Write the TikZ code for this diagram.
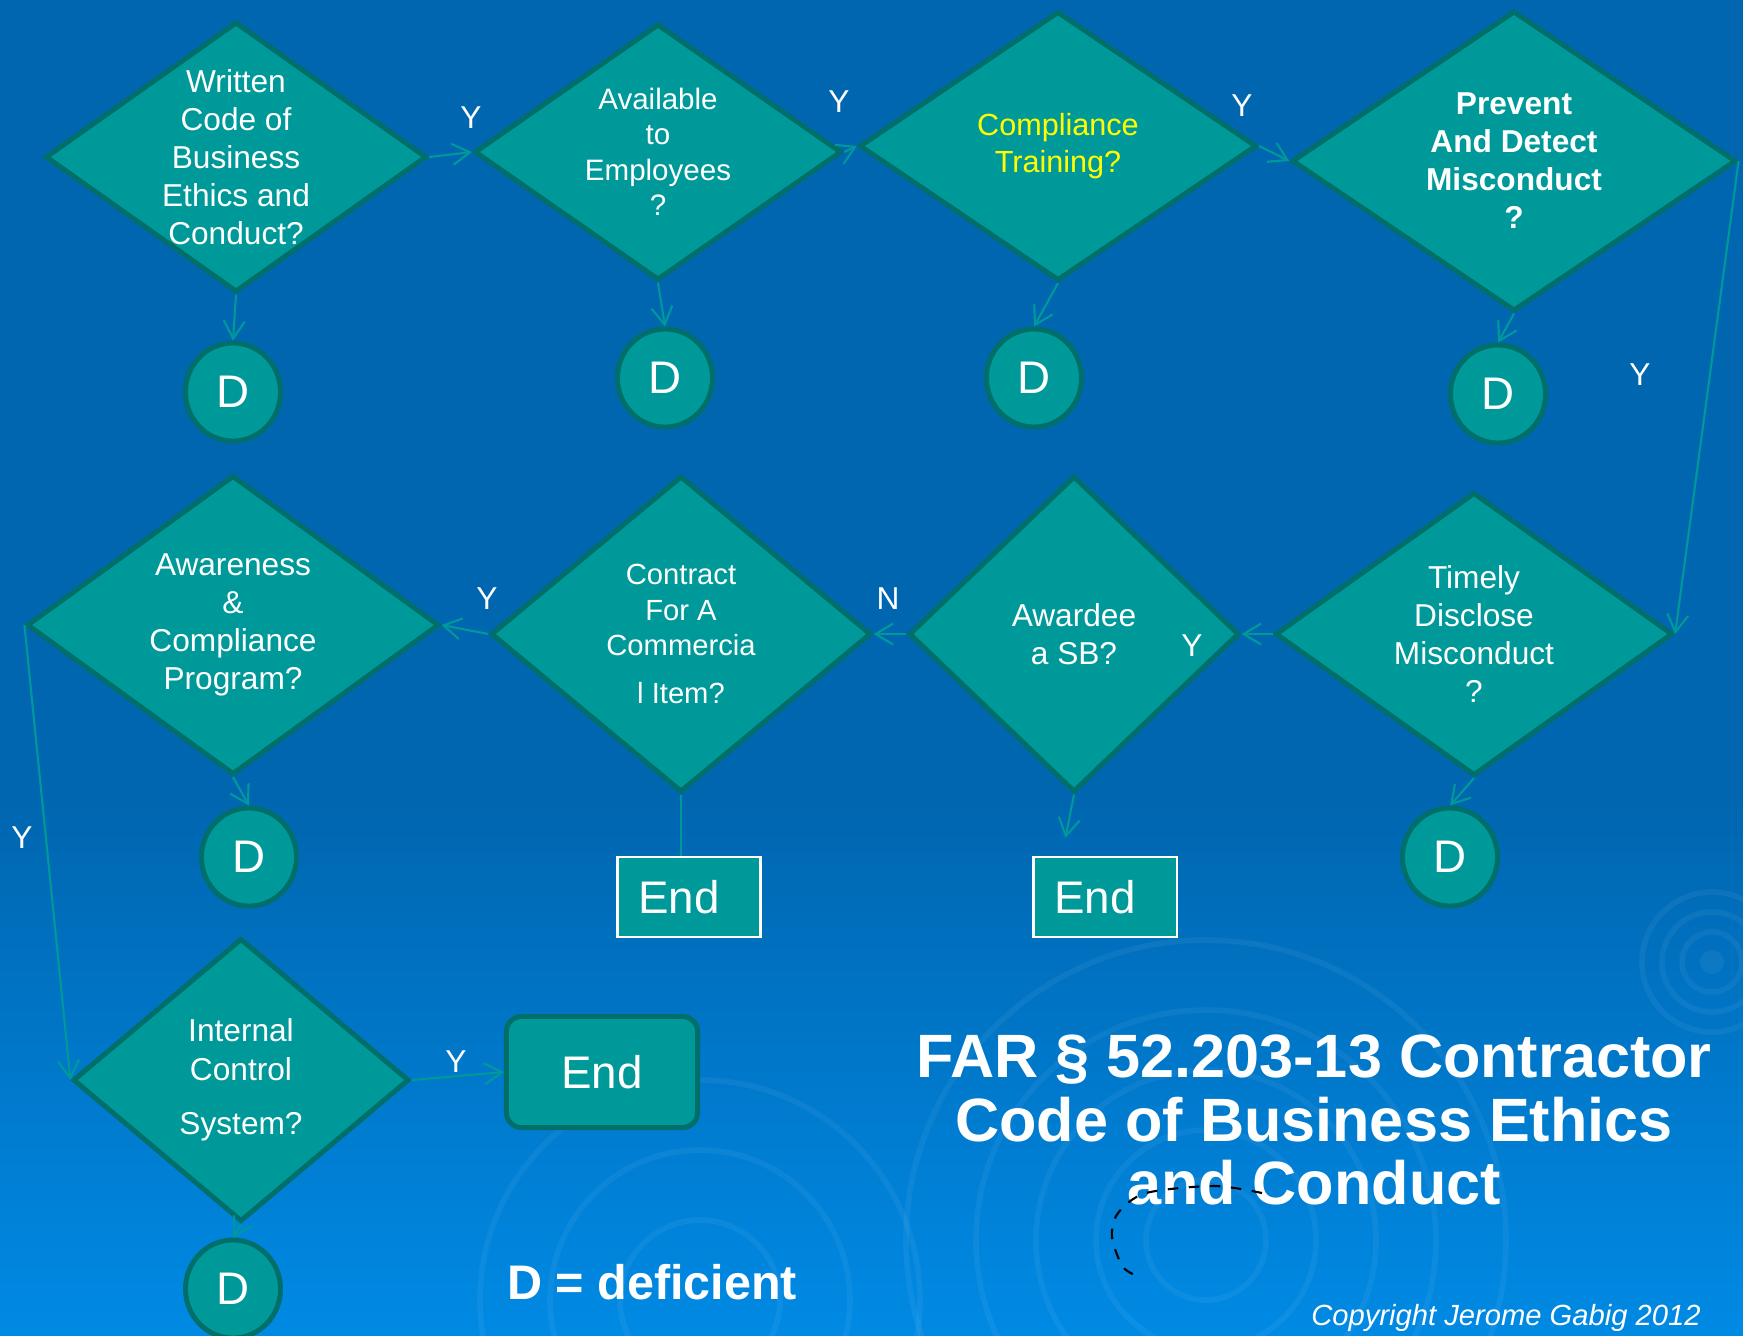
\documentclass[tikz,border=0pt]{standalone}
\usepackage{fontspec}
\setmainfont{Liberation Sans}
\usetikzlibrary{shapes.geometric,arrows.meta,calc}

\definecolor{bgtop}{RGB}{0,102,176}
\definecolor{bgbottom}{RGB}{0,138,228}
\definecolor{tealfill}{RGB}{0,153,153}
\definecolor{tealedge}{RGB}{0,110,105}
\definecolor{qyellow}{RGB}{255,255,0}

\begin{document}
\begin{tikzpicture}[x=0.01cm, y=-0.01cm,
    decision/.style={diamond, draw=tealedge, line width=1.4pt, fill=tealfill, inner sep=0pt},
    question/.style={text=white, align=center, inner sep=0pt, font=\fontsize{9}{10.8}\selectfont},
    deficient/.style={ellipse, draw=tealedge, line width=1.4pt, fill=tealfill, inner sep=0pt,
        minimum width=0.95cm, minimum height=0.98cm, text=white, font=\fontsize{13}{15}\selectfont},
    endbox/.style={rectangle, draw=white, line width=0.6pt, fill=tealfill, inner sep=0pt,
        minimum width=1.43cm, minimum height=0.80cm, text=white, font=\fontsize{13}{15}\selectfont},
    answer/.style={text=white, inner sep=0pt, font=\fontsize{9}{10.8}\selectfont},
    flow/.style={draw=tealfill, line width=0.6pt, -{Straight Barb[length=5pt,width=6pt]}},
    ripple/.style={draw=white, opacity=0.05, line width=1.6pt},
]
% background
\useasboundingbox (0,0) rectangle (1743,1335);
\fill[bgtop] (0,0) rectangle (1743,800);
\shade[top color=bgtop, bottom color=bgbottom] (0,799) rectangle (1743,1335);
\begin{scope}
    \clip (0,0) rectangle (1743,1335);
    \fill[white, opacity=0.05] (1712,962) circle (12);
    \foreach \r in {30,50,70} \draw[ripple] (1712,962) circle (\r);
    \foreach \r in {60,110,170,230,300} \draw[ripple] (1206,1240) circle (\r);
    \foreach \r in {80,150,220} \draw[ripple] (700,1300) circle (\r);
\end{scope}

% decisions
\node[decision, minimum width=3.81cm, minimum height=2.70cm] (d1) at (236,157) {};
\node[decision, minimum width=3.67cm, minimum height=2.56cm] (d2) at (658,152) {};
\node[decision, minimum width=3.97cm, minimum height=2.69cm] (d3) at (1058,146) {};
\node[decision, minimum width=4.44cm, minimum height=3.00cm] (d4) at (1514,161) {};
\node[decision, minimum width=3.97cm, minimum height=2.83cm] (d5) at (1474,634) {};
\node[decision, minimum width=3.30cm, minimum height=3.16cm] (d6) at (1074,634) {};
\node[decision, minimum width=3.80cm, minimum height=3.16cm] (d7) at (681,634) {};
\node[decision, minimum width=4.12cm, minimum height=2.99cm] (d8) at (233,625) {};
\node[decision, minimum width=3.36cm, minimum height=2.83cm] (d9) at (241,1080) {};

\node[question] (q1) at (d1) {Written\\Code of\\Business\\Ethics and\\Conduct?};
\node[question, font=\fontsize{8.4}{10.1}\selectfont] (q2) at (d2) {Available\\to\\Employees\\?};
\node[question, text=qyellow, font=\fontsize{8.7}{10.4}\selectfont] (q3) at (d3) {Compliance\\Training?};
\node[question, font=\bfseries\fontsize{9}{10.8}\selectfont] (q4) at (d4) {Prevent\\And Detect\\Misconduct\\?};
\node[question] (q5) at (d5) {Timely\\Disclose\\Misconduct\\?};
\node[question] (q6) at (d6) {Awardee\\a SB?};
\node[question, font=\fontsize{8.3}{10.1}\selectfont] (q7) at (d7) {Contract\\For A\\Commercia\\[3.4pt]l Item?};
\node[question] (q8) at (d8) {Awareness\\\&\\Compliance\\Program?};
\node[question, font=\fontsize{9}{11}\selectfont] (q9) at (d9) {Internal\\Control\\[4.4pt]System?};

% deficient marks
\node[deficient] (c1) at (233,392) {D};
\node[deficient] (c2) at (665,378) {D};
\node[deficient] (c3) at (1034,378) {D};
\node[deficient] (c4) at (1498,394) {D};
\node[deficient] (c5) at (1450,857) {D};
\node[deficient] (c8) at (249,857) {D};
\node[deficient] (c9) at (233,1289) {D};

% ends
\node[endbox] (e1) at (689,897) {End\kern0.2cm};
\node[endbox] (e2) at (1105,897) {End\kern0.2cm};
\node[endbox, draw=tealedge, line width=1.4pt, rounded corners=0.15cm,
    minimum width=1.91cm, minimum height=1.11cm] (e3) at (602,1072) {End};
\coordinate (e2in) at ($(e2.north west)+(33,-18)$);

% connectors
\draw[flow] (d1.east) -- (d2.west);
\draw[flow] (d2.east) -- (d3.west);
\draw[flow] (d3.east) -- (d4.west);
\draw[flow] (d4.east) -- (d5.east);
\draw[flow] (d5.west) -- (d6.east);
\draw[flow] (d6.west) -- (d7.east);
\draw[flow] (d7.west) -- (d8.east);
\draw[flow] (d8.west) -- (d9.west);
\draw[flow] (d9.east) -- (e3.west);
\foreach \i in {1,2,3,4,5,8,9}
    \draw[flow] (d\i.south) -- (c\i.north);
\draw[flow] (d6.south) -- (e2in);
\draw[draw=tealfill, line width=0.6pt] (d7.south) -- (d7.south |- e1.north);

% answers
\node[answer] (y1) at (471,118) {Y};
\node[answer] (y2) at (839,102) {Y};
\node[answer] (y3) at (1242,106) {Y};
\node[answer] (y4) at (1640,375) {Y};
\node[answer] (y5) at (1192,646) {Y};
\node[answer] (n6) at (888,599) {N};
\node[answer] (y7) at (487,599) {Y};
\node[answer] (y8) at (22,838) {Y};
\node[answer] (y9) at (456,1062) {Y};

% texts
\node[text=white, align=center, font=\bfseries\fontsize{17.4}{18}\selectfont] (farttl) at (1314,1120)
    {FAR § 52.203-13 Contractor\\Code of Business Ethics\\and Conduct};
\draw[black, dashed, line width=0.6pt] plot[smooth] coordinates
    {(1262,1193) (1214,1186) (1146,1193) (1118,1213) (1112,1237) (1123,1267) (1140,1277)};
\node[text=white, font=\bfseries\fontsize{13.8}{16}\selectfont] (legend) at (652,1282) {D = deficient};
\node[text=white, font=\itshape\fontsize{8.3}{10}\selectfont] (copy) at (1506,1318) {Copyright Jerome Gabig 2012};
\end{tikzpicture}
\end{document}
